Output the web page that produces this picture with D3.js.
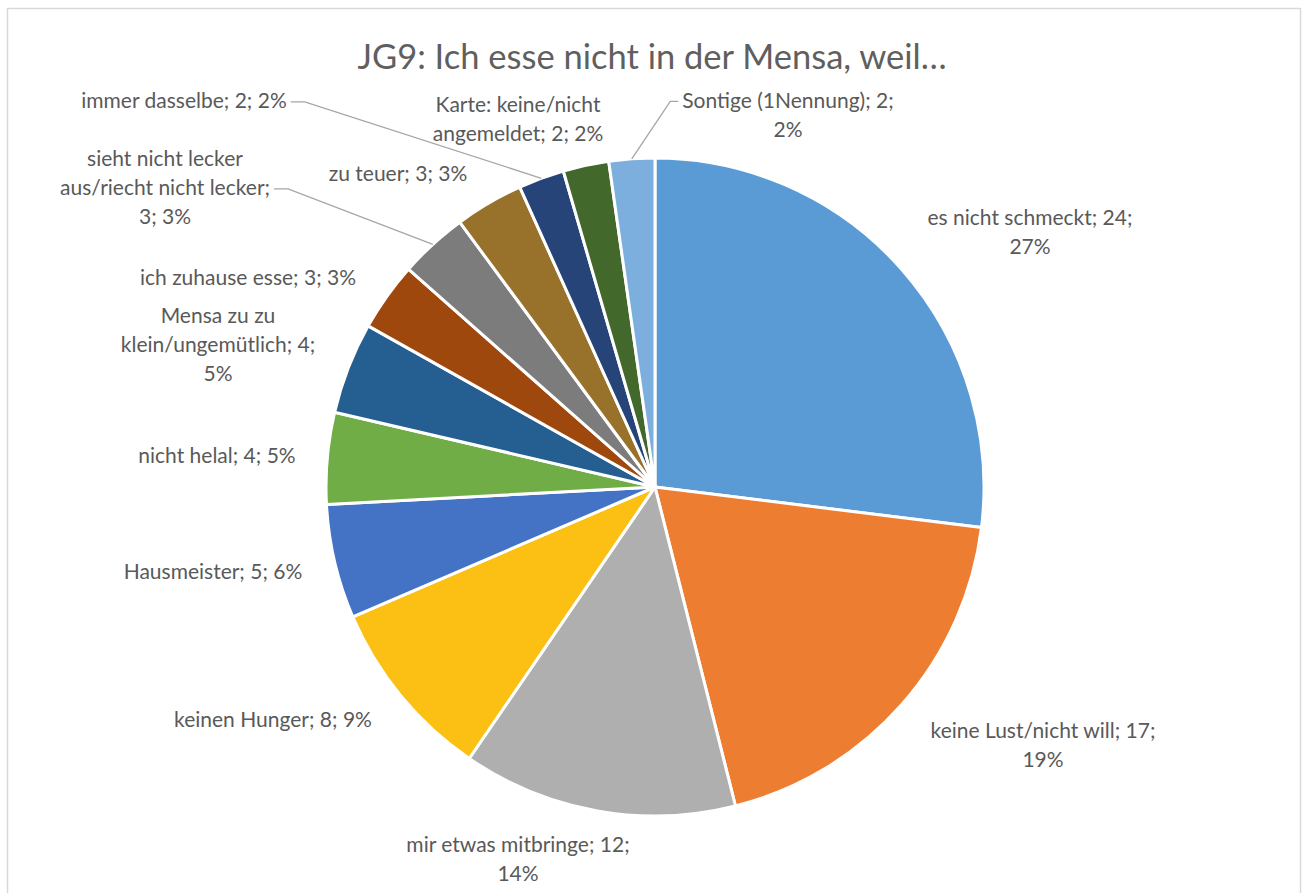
<!DOCTYPE html>
<html>
<head>
<meta charset="utf-8">
<script src="https://cdn.jsdelivr.net/npm/d3@7"></script>
<style>
  html, body { margin: 0; padding: 0; background: #fff; }
  svg { display: block; }
  text { font-family: Lato, "Open Sans", sans-serif; fill: #595959; }
</style>
</head>
<body>
<svg id="chart" width="1303" height="893"></svg>
<script>
// Reasons given for not eating in the cafeteria (count of answers)
const categories = [
  "es nicht schmeckt",
  "keine Lust/nicht will",
  "mir etwas mitbringe",
  "keinen Hunger",
  "Hausmeister",
  "nicht helal",
  "Mensa zu zu klein/ungemütlich",
  "ich zuhause esse",
  "sieht nicht lecker aus/riecht nicht lecker",
  "zu teuer",
  "immer dasselbe",
  "Karte: keine/nicht angemeldet",
  "Sontige (1Nennung)"
];
const counts = [24, 17, 12, 8, 5, 4, 4, 3, 3, 3, 2, 2, 2];

// Label text split into lines as wrapped in the chart
const labelLines = [
  ["es nicht schmeckt; 24;", "27%"],
  ["keine Lust/nicht will; 17;", "19%"],
  ["mir etwas mitbringe; 12;", "14%"],
  ["keinen Hunger; 8; 9%"],
  ["Hausmeister; 5; 6%"],
  ["nicht helal; 4; 5%"],
  ["Mensa zu zu", "klein/ungemütlich; 4;", "5%"],
  ["ich zuhause esse; 3; 3%"],
  ["sieht nicht lecker", "aus/riecht nicht lecker;", "3; 3%"],
  ["zu teuer; 3; 3%"],
  ["immer dasselbe; 2; 2%"],
  ["Karte: keine/nicht", "angemeldet; 2; 2%"],
  ["Sontige (1Nennung); 2;", "2%"]
];

const colors = ["#5B9BD5", "#ED7D31", "#AFAFAF", "#FCBF14", "#4472C4", "#70AD47",
                "#255E91", "#9E480E", "#7C7C7C", "#98722B", "#264478", "#43682B", "#7CAFDD"];

// ---- layout ----
const cx = 655, cy = 487, R = 329;
const lineH = 29;
// label block centres, relative to the pie centre
const labelPos = [
  [375, -255], [388, 258], [-137, 372], [-382, 233], [-442, 85], [-438, -31],
  [-437, -142], [-407, -209], [-490, -299], [-257, -313], [-471, -386],
  [-137, -368], [133, -372]
];
// labels joined to their slice by a leader line:
// side of the label the line leaves from, line row it sits on, and elbow length
const leaders = [
  { index: 8, side: "right", row: 1, elbow: 14 },
  { index: 10, side: "right", row: 0, elbow: 14 },
  { index: 12, side: "left", row: 0, elbow: 8 }
];

const svg = d3.select("#chart");

// chart frame
svg.append("rect")
  .attr("x", 7.5).attr("y", 8.5)
  .attr("width", 1293).attr("height", 900)
  .attr("fill", "#fff").attr("stroke", "#d9d9d9").attr("stroke-width", 1.5);

// title
svg.append("text")
  .attr("x", 652).attr("y", 69)
  .attr("text-anchor", "middle")
  .style("font-size", "34.5px")
  .style("fill", "#5f5f5f")
  .text("JG9: Ich esse nicht in der Mensa, weil…");

const pie = d3.pie().sort(null).value(d => d)(counts);
const arc = d3.arc().innerRadius(0).outerRadius(R);

const g = svg.append("g").attr("transform", `translate(${cx},${cy})`);

g.selectAll("path.slice")
  .data(pie)
  .join("path")
  .attr("class", "slice")
  .attr("d", arc)
  .attr("fill", (d, i) => colors[i])
  .attr("stroke", "#fff")
  .attr("stroke-width", 3)
  .attr("stroke-linejoin", "round");

const leaderLayer = g.append("g");

// data labels
const labels = g.selectAll("text.lbl")
  .data(pie)
  .join("text")
  .attr("class", "lbl")
  .attr("text-anchor", "middle")
  .style("font-size", "21px");

labels.each(function(d, i) {
  const lines = labelLines[i];
  const [lx, ly] = labelPos[i];
  const top = ly - (lines.length - 1) * lineH / 2;
  d3.select(this).selectAll("tspan")
    .data(lines)
    .join("tspan")
    .attr("x", lx)
    .attr("y", (t, j) => top + j * lineH)
    .attr("dy", "0.35em")
    .text(t => t);
});

// leader lines, starting just beside the label text
leaders.forEach(L => {
  const d = pie[L.index];
  const mid = (d.startAngle + d.endAngle) / 2;
  const end = [Math.sin(mid) * R, -Math.cos(mid) * R];
  const tspan = labels.filter((e, i) => i === L.index).selectAll("tspan").nodes()[L.row];
  const bb = tspan.getBBox();
  const y = bb.y + bb.height / 2 + 2;
  const x0 = L.side === "right" ? bb.x + bb.width + 4 : bb.x - 4;
  const x1 = L.side === "right" ? x0 + L.elbow : x0 - L.elbow;
  leaderLayer.append("polyline")
    .attr("points", [[x0, y], [x1, y], end].map(p => p.join(",")).join(" "))
    .attr("fill", "none")
    .attr("stroke", "#a6a6a6")
    .attr("stroke-width", 1.3);
});
</script>
</body>
</html>
